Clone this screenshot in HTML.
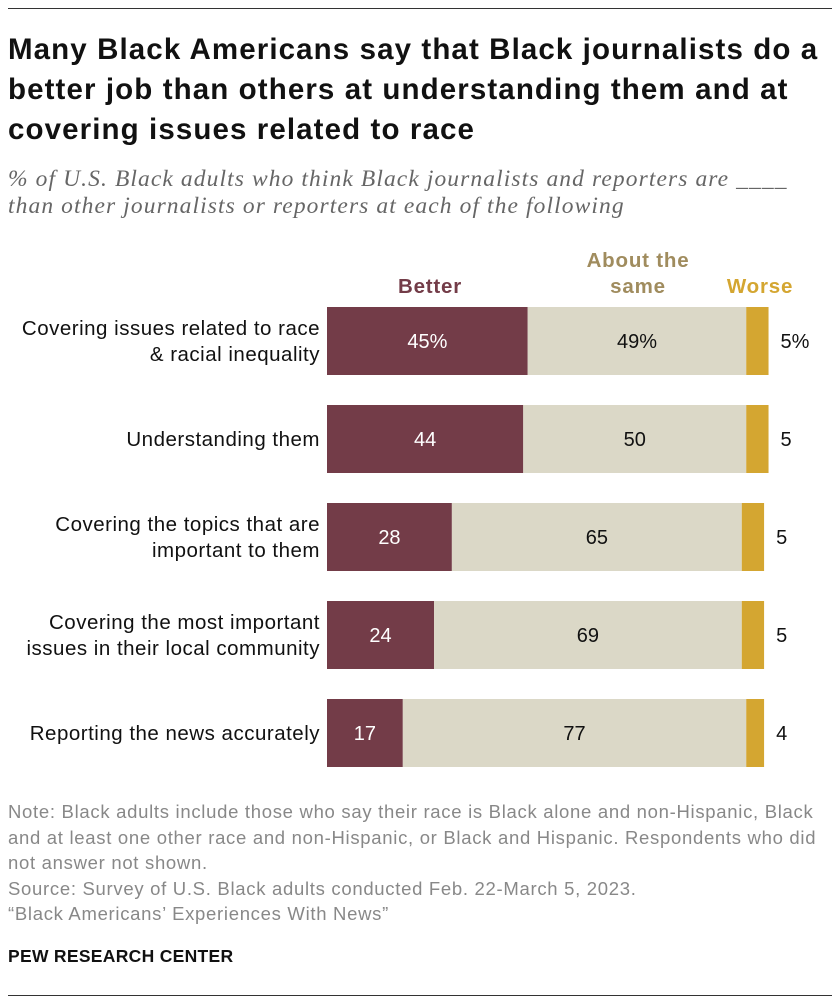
<!DOCTYPE html>
<html><head><meta charset="utf-8"><style>
body{margin:0;width:840px;height:1008px;background:#fff;font-family:"Liberation Sans",Arial,sans-serif;position:relative;overflow:hidden}
.abs{position:absolute;white-space:nowrap}
</style></head><body>
<div class="abs" style="left:8px;top:8px;width:824px;height:1px;background:#333"></div>
<div class="abs" style="left:8px;top:30px;font-size:29.5px;letter-spacing:1.1px;font-weight:bold;line-height:40px;color:#111">Many Black Americans say that Black journalists do a<br>better job than others at understanding them and at<br>covering issues related to race</div>
<div class="abs" style="left:8px;top:166px;font-family:'Liberation Serif',serif;font-style:italic;font-size:23.5px;letter-spacing:1.1px;line-height:27px;color:#666">% of U.S. Black adults who think Black journalists and reporters are ____<br>than other journalists or reporters at each of the following</div>
<svg class="abs" style="left:0;top:0" width="840" height="1008" id="chart"></svg>
<div class="abs" style="left:8px;top:799px;font-size:18.5px;letter-spacing:0.7px;line-height:25.5px;color:#888">Note: Black adults include those who say their race is Black alone and non-Hispanic, Black<br>and at least one other race and non-Hispanic, or Black and Hispanic. Respondents who did<br>not answer not shown.<br>Source: Survey of U.S. Black adults conducted Feb. 22-March 5, 2023.<br>“Black Americans’ Experiences With News”</div>
<div class="abs" style="left:8px;top:946px;font-size:17.5px;letter-spacing:0.3px;font-weight:bold;color:#111">PEW RESEARCH CENTER</div>
<div class="abs" style="left:8px;top:995px;width:824px;height:1px;background:#333"></div>
<script>
const categories=[["Covering issues related to race","& racial inequality"],["Understanding them"],["Covering the topics that are","important to them"],["Covering the most important","issues in their local community"],["Reporting the news accurately"]];
const better=[45,44,28,24,17];
const same=[49,50,65,69,77];
const worse=[5,5,5,5,4];
const svg=document.getElementById('chart');
const NS='http://www.w3.org/2000/svg';
const x0=327,k=4.46,top0=307,step=98,bh=68;
const xs=v=>v*k;
function el(t,a,txt){const e=document.createElementNS(NS,t);for(const n in a)e.setAttribute(n,a[n]);if(txt!=null)e.textContent=txt;svg.appendChild(e);return e;}
let h;
h=el('text',{x:430,y:293,'text-anchor':'middle','font-size':20.5,'letter-spacing':0.8,'font-weight':'bold',fill:'#733c48'},'Better');


h=el('text',{x:638,y:267,'text-anchor':'middle','font-size':20.5,'letter-spacing':0.8,'font-weight':'bold',fill:'#a08c5e'},'About the');


h=el('text',{x:638,y:293,'text-anchor':'middle','font-size':20.5,'letter-spacing':0.8,'font-weight':'bold',fill:'#a08c5e'},'same');


h=el('text',{x:760,y:293,'text-anchor':'middle','font-size':20.5,'letter-spacing':0.8,'font-weight':'bold',fill:'#d4a631'},'Worse');


categories.forEach((c,i)=>{
  const y=top0+i*step, cy=y+bh/2;
  c.forEach((line,j)=>{
    const t=el('text',{x:320,y:cy+7+(j-(c.length-1)/2)*26,'text-anchor':'end','font-size':20.5,'letter-spacing':0.5,fill:'#111'},line);
    
    
  });
  const pct=i===0?'%':'';
  let x=x0;
  const segs=[[better[i],'#733c48','#fff','bar-better'],[same[i],'#dbd8c7','#111','bar-same'],[worse[i],'#d4a631','#111','bar-worse']];
  segs.forEach(([v,col,tc,nm],s)=>{
    const w=xs(v);
    const r=el('rect',{x:x,y:y,width:w,height:bh,fill:col});
    
    
    const lx=s===2?x+w+12:x+w/2;
    const t=el('text',{x:lx,y:cy+7,'text-anchor':s===2?'start':'middle','font-size':20,fill:tc},v+pct);
    
    
    x+=w;
  });
});
</script>
</body></html>
